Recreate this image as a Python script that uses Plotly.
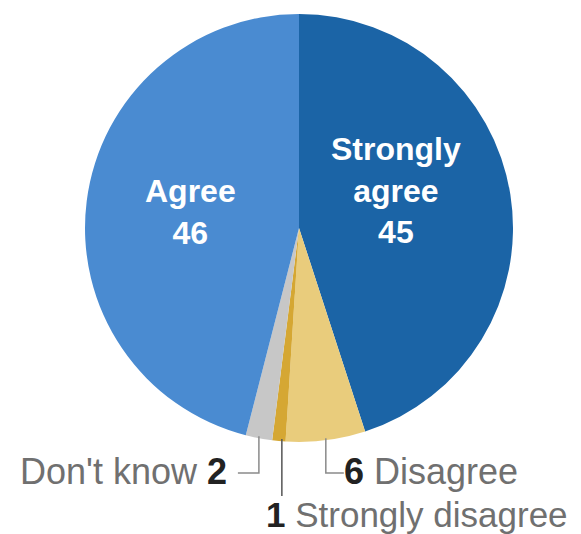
import math
import plotly.graph_objects as go

# Survey response shares (percent), clockwise from 12 o'clock
categories = ["Strongly agree", "Disagree", "Strongly disagree", "Don't know", "Agree"]
values = [45, 6, 1, 2, 46]
colors = ["#1b64a6", "#e9cc7c", "#d5a733", "#c7c7c7", "#4a8bd1"]

W, H = 581, 534
# pie placement in pixels
CX, CY, R = 299, 228, 214
dom_x = [(CX - R) / W, (CX + R) / W]
dom_y = [1 - (CY + R) / H, 1 - (CY - R) / H]

fig = go.Figure(
    go.Pie(
        labels=categories,
        values=values,
        marker=dict(colors=colors, line=dict(width=0)),
        sort=False,
        direction="clockwise",
        rotation=0,
        textinfo="none",
        hoverinfo="label+value",
        domain=dict(x=dom_x, y=dom_y),
        showlegend=False,
    )
)


def px(x):
    return x / W


def py(y):
    return 1 - y / H


def mid_angle(i):
    total = sum(values)
    start = sum(values[:i])
    return 2 * math.pi * (start + values[i] / 2) / total


def edge_point(i):
    a = mid_angle(i)
    return CX + R * math.sin(a), CY - R * math.cos(a)


GREY = "#707070"
DARK = "#222222"
FONT = "Liberation Sans"
IN_SIZE = 32
OUT_SIZE = 36

# labels inside the two large slices
inside = [
    ("Strongly<br>agree<br>" + str(values[0]), 396, 190),
    ("Agree<br>" + str(values[4]), 190, 212),
]
for text, x, y in inside:
    fig.add_annotation(
        x=px(x), y=py(y), xref="paper", yref="paper",
        text=text, showarrow=False,
        font=dict(family=FONT, size=IN_SIZE, color="white", weight=600),
        align="center", xanchor="center", yanchor="middle",
    )

line_style = dict(color="#8a8a8a", width=1.5)

# Don't know: drop then hook left
ex, ey = edge_point(3)
fig.add_shape(type="path", xref="paper", yref="paper",
              path=f"M {px(ex)} {py(ey - 2)} L {px(ex)} {py(473)} L {px(ex - 21)} {py(473)}",
              line=line_style)
fig.add_annotation(
    x=px(ex - 30), y=py(471), xref="paper", yref="paper",
    text=f"<span style='color:{GREY}'>Don't know</span> <b style='color:{DARK}'>{values[3]}</b>",
    showarrow=False, xanchor="right", yanchor="middle",
    font=dict(family=FONT, size=OUT_SIZE),
)

# Disagree: drop then hook right
ex, ey = edge_point(1)
fig.add_shape(type="path", xref="paper", yref="paper",
              path=f"M {px(ex)} {py(ey - 2)} L {px(ex)} {py(473)} L {px(ex + 18)} {py(473)}",
              line=line_style)
fig.add_annotation(
    x=px(ex + 16), y=py(471), xref="paper", yref="paper",
    text=f"<b style='color:{DARK}'>{values[1]}</b> <span style='color:{GREY}'>Disagree</span>",
    showarrow=False, xanchor="left", yanchor="middle",
    font=dict(family=FONT, size=OUT_SIZE),
)

# Strongly disagree: straight drop onto the label
ex, ey = edge_point(2)
fig.add_shape(type="line", xref="paper", yref="paper",
              x0=px(ex + 3), y0=py(ey - 2), x1=px(ex + 3), y1=py(496),
              line=dict(color="#555555", width=1.5))
fig.add_annotation(
    x=px(ex - 15), y=py(514), xref="paper", yref="paper",
    text=f"<b style='color:{DARK}'>{values[2]}</b> <span style='color:{GREY}'>Strongly disagree</span>",
    showarrow=False, xanchor="left", yanchor="middle",
    font=dict(family=FONT, size=35),
)

fig.update_layout(
    width=W, height=H,
    margin=dict(l=0, r=0, t=0, b=0),
    paper_bgcolor="white",
    plot_bgcolor="white",
)

fig.write_html("out.html")
